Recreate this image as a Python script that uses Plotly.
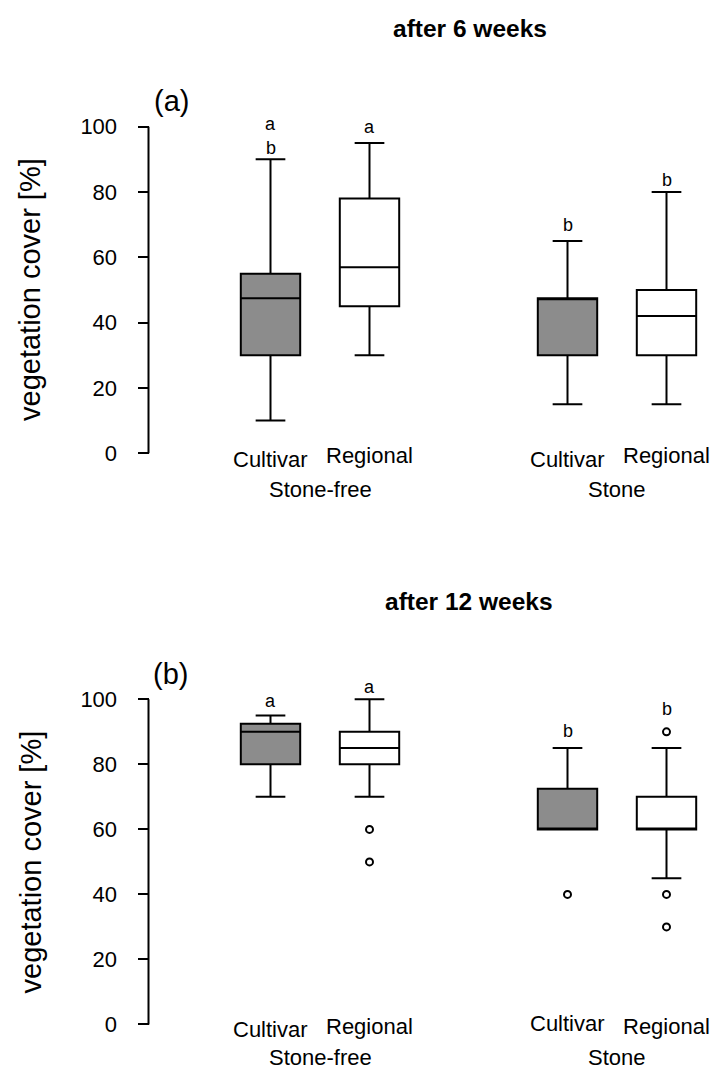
import plotly.graph_objects as go

# ---------------- data ----------------
categories = ["Cultivar", "Regional", "Cultivar", "Regional"]
groups = ["Stone-free", "Stone"]
positions = [1, 2, 4, 5]
group_pos = [1.5, 4.5]
y_ticks = [0, 20, 40, 60, 80, 100]

# after 6 weeks (panel a)
wk6_low = [10, 30, 15, 15]
wk6_q1 = [30, 45, 30, 30]
wk6_med = [47.5, 57, 47.5, 42]
wk6_q3 = [55, 78, 47.5, 50]
wk6_high = [90, 95, 65, 80]
wk6_letter_x = [1, 1, 2, 4, 5]
wk6_letter_y = [100.7, 93.6, 100.0, 69.9, 83.7]
wk6_letters = ["a", "b", "a", "b", "b"]

# after 12 weeks (panel b)
wk12_low = [70, 70, 60, 45]
wk12_q1 = [80, 80, 60, 60]
wk12_med = [90, 85, 60, 60]
wk12_q3 = [92.5, 90, 72.5, 70]
wk12_high = [95, 100, 85, 85]
wk12_out_x = [2, 2, 4, 5, 5, 5]
wk12_out_y = [60, 50, 40, 90, 40, 30]
wk12_letter_x = [1, 2, 4, 5]
wk12_letter_y = [99.5, 103.7, 90.2, 96.9]
wk12_letters = ["a", "a", "b", "b"]

# ---------------- style ----------------
W, H = 714, 1070
FONT = "Arial, Liberation Sans, sans-serif"
GRAY = "#8c8c8c"
XMIN = 1 - 270.5 / 99.0
XMAX = XMIN + W / 99.0
AX_POS = 148.5 / W


def py(px):
    return 1 - px / H


fig = go.Figure()

panels = [
    (wk6_low, wk6_q1, wk6_med, wk6_q3, wk6_high, "x", "y"),
    (wk12_low, wk12_q1, wk12_med, wk12_q3, wk12_high, "x2", "y2"),
]
for low, q1, med, q3, high, xa, ya in panels:
    for idx, fill in [([0, 2], GRAY), ([1, 3], "white")]:
        fig.add_trace(go.Box(
            x=[positions[i] for i in idx],
            q1=[q1[i] for i in idx],
            median=[med[i] for i in idx],
            q3=[q3[i] for i in idx],
            lowerfence=[low[i] for i in idx],
            upperfence=[high[i] for i in idx],
            fillcolor=fill,
            line=dict(color="black", width=2),
            width=0.6,
            whiskerwidth=0.5,
            boxpoints=False,
            hoverinfo="skip",
            xaxis=xa, yaxis=ya,
        ))

fig.add_trace(go.Scatter(
    x=wk12_out_x, y=wk12_out_y, mode="markers",
    marker=dict(symbol="circle", size=7, color="white",
                line=dict(color="black", width=2)),
    cliponaxis=False, hoverinfo="skip", xaxis="x2", yaxis="y2",
))

axis_common = dict(range=[XMIN, XMAX], domain=[0, 1], visible=False,
                   showgrid=False, zeroline=False, fixedrange=True)
yaxis_common = dict(range=[-8, 110], anchor="free", position=AX_POS,
                    tickvals=y_ticks, ticks="outside", ticklen=11,
                    tickwidth=2, tickcolor="black", showgrid=False,
                    zeroline=False, showline=False, fixedrange=True,
                    tickfont=dict(family=FONT, size=22, color="black"),
                    ticklabelstandoff=16)

fig.update_layout(
    width=W, height=H,
    margin=dict(l=0, r=0, t=0, b=0),
    paper_bgcolor="white", plot_bgcolor="white",
    showlegend=False,
    xaxis=dict(anchor="y", **axis_common),
    xaxis2=dict(anchor="y2", **axis_common),
    yaxis=dict(domain=[py(479.4), py(94.04)], **yaxis_common),
    yaxis2=dict(domain=[py(1050.5), py(666.8)], **yaxis_common),
)

# axis lines spanning 0..100 only
for ya in ["y", "y2"]:
    fig.add_shape(type="line", xref="paper", yref=ya, x0=AX_POS, x1=AX_POS,
                  y0=0, y1=100, line=dict(color="black", width=2))

ann = []
# titles and panel tags
ann.append(dict(text="<b>after 6 weeks</b>", x=470 / W, y=py(29), size=24.5))
ann.append(dict(text="<b>after 12 weeks</b>", x=469 / W, y=py(601), size=24.5))
ann.append(dict(text="(a)", x=171.7 / W, y=py(101), size=29))
ann.append(dict(text="(b)", x=170 / W, y=py(674), size=29))
for a in ann:
    fig.add_annotation(text=a["text"], xref="paper", yref="paper",
                       x=a["x"], y=a["y"], showarrow=False,
                       xanchor="center", yanchor="middle",
                       font=dict(family=FONT, size=a["size"], color="black"))

# y-axis titles
for yc in [290, 862.5]:
    fig.add_annotation(text="vegetation cover [%]", xref="paper", yref="paper",
                       x=30 / W, y=py(yc), showarrow=False, textangle=-90,
                       xanchor="center", yanchor="middle",
                       font=dict(family=FONT, size=29, color="black"))

# category labels
cat_y_top = [459, 455, 459, 455]
cat_y_bot = [1029, 1026, 1023, 1026]
for xa, ys, gy in [("x", cat_y_top, 489.5), ("x2", cat_y_bot, 1057)]:
    for p, c, yy in zip(positions, categories, ys):
        fig.add_annotation(text=c, xref=xa, yref="paper", x=p, y=py(yy),
                           showarrow=False, xanchor="center", yanchor="middle",
                           font=dict(family=FONT, size=22, color="black"))
    for gp, g in zip(group_pos, groups):
        fig.add_annotation(text=g, xref=xa, yref="paper", x=gp, y=py(gy),
                           showarrow=False, xanchor="center", yanchor="middle",
                           font=dict(family=FONT, size=22, color="black"))

# significance letters
for xa, ya, lx, ly, lt in [("x", "y", wk6_letter_x, wk6_letter_y, wk6_letters),
                           ("x2", "y2", wk12_letter_x, wk12_letter_y, wk12_letters)]:
    for xx, yy, t in zip(lx, ly, lt):
        fig.add_annotation(text=t, xref=xa, yref=ya, x=xx, y=yy,
                           showarrow=False, xanchor="center", yanchor="middle",
                           font=dict(family=FONT, size=18, color="black"))

fig.write_html(
    "out.html",
    config={"displayModeBar": False, "staticPlot": True},
    post_script="document.body.style.margin='0';document.body.style.overflow='hidden';",
)
